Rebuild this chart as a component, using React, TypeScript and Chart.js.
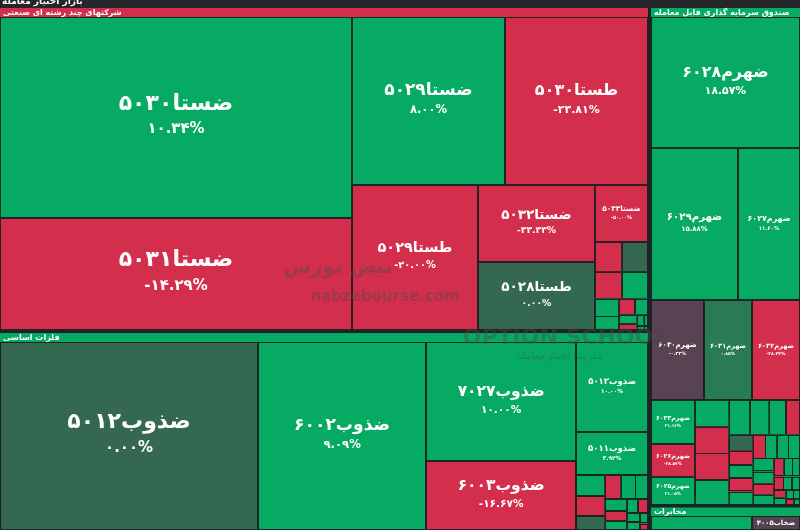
import React, { useEffect, useRef } from "react";
import { Chart, registerables } from "chart.js";
Chart.register(...registerables);

// ---------------- DATA ----------------
const rootTitle = "بازار اختیار معامله";
const groupNames = [
  "شرکتهای چند رشته ای صنعتی",
  "فلزات اساسی",
  "صندوق سرمایه گذاری قابل معامله",
  "مخابرات",
];

// Group 1 – شرکتهای چند رشته ای صنعتی
const g1Tickers = [
  "ضستا۵۰۳۰", "ضستا۵۰۳۱", "ضستا۵۰۲۹", "طستا۵۰۳۰", "طستا۵۰۲۹", "ضستا۵۰۳۲", "طستا۵۰۲۸", "ضستا۵۰۳۳",
  "طستا۵۰۳۱", "طستا۵۰۳۲", "ضستا۵۰۲۸", "طستا۵۰۳۳", "ضستا۵۰۲۷", "طستا۵۰۲۷", "ضستا۵۰۲۶",
  "طستا۵۰۲۶", "ضستا۵۰۲۵", "طستا۵۰۲۵", "ضستا۵۰۲۴", "طستا۵۰۲۴", "ضستا۵۰۳۴", "طستا۵۰۳۴",
];
const g1Values = [
  73292, 40839, 26627, 24886, 18926, 9332, 8242, 3129,
  829, 808, 746, 725, 435, 342, 269, 218, 166, 114, 83, 52, 31, 15,
];
const g1Changes = [
  10.34, -14.29, 8.0, -23.81, -20.0, -33.33, 0.0, -50.0,
  -12.5, 0.0, -9.1, 6.25, 5.0, 4.8, -7.7, 3.3, 5.5, -4.2, 6.7, 2.9, 4.0, 3.1,
];

// Group 2 – فلزات اساسی
const g2Tickers = [
  "ضذوب۵۰۱۲", "ضذوب۶۰۰۲", "ضذوب۷۰۲۷", "ضذوب۶۰۰۳", "ضذوب۵۰۱۳", "ضذوب۵۰۱۱",
  "طذوب۵۰۱۲", "طذوب۶۰۰۲", "ضذوب۷۰۲۸", "طذوب۷۰۲۷", "ضذوب۶۰۰۱", "طذوب۶۰۰۳", "ضذوب۵۰۱۰",
  "طذوب۵۰۱۳", "ضذوب۷۰۲۶", "طذوب۵۰۱۱", "ضذوب۶۰۰۴", "طذوب۷۰۲۸", "ضذوب۵۰۱۴", "طذوب۶۰۰۱", "ضذوب۷۰۲۹",
];
const g2Values = [
  51332, 33425, 18891, 10953, 6858, 3277,
  635, 593, 423, 402, 370, 317, 275, 233, 212, 169, 148, 127, 106, 85, 53,
];
const g2Changes = [
  0.0, 9.09, 10.0, -16.67, 10.0, 3.92,
  7.1, -11.1, 0.0, -8.3, 5.9, 4.5, 6.3, -5.6, 3.7, 8.3, -6.2, 4.2, 5.0, 3.4, -9.0,
];

// Group 3 – صندوق سرمایه گذاری قابل معامله
const g3Tickers = [
  "ضهرم۶۰۲۸", "ضهرم۶۰۲۹", "ضهرم۶۰۲۷", "ضهرم۶۰۳۰", "ضهرم۶۰۳۱", "ضهرم۶۰۳۲", "ضهرم۶۰۳۳", "ضهرم۶۰۲۶", "ضهرم۶۰۲۵",
  "طهرم۶۰۲۵", "طهرم۶۰۲۶", "طهرم۶۰۲۷", "طهرم۶۰۲۸", "طهرم۶۰۲۹", "طهرم۶۰۳۰", "طهرم۶۰۳۱", "طهرم۶۰۳۲", "طهرم۶۰۳۳",
  "ضهرم۶۰۲۰", "ضهرم۶۰۲۱", "ضهرم۶۰۲۲", "ضهرم۶۰۲۳", "ضهرم۶۰۲۴",
  "ضهرم۶۰۳۴", "ضهرم۶۰۳۵", "ضهرم۶۰۳۶", "ضهرم۶۰۳۷", "ضهرم۶۰۳۸", "ضهرم۶۰۳۹", "ضهرم۶۰۴۰",
  "طهرم۶۰۲۰", "طهرم۶۰۲۱", "طهرم۶۰۲۲", "طهرم۶۰۲۳", "طهرم۶۰۲۴",
  "طهرم۶۰۳۴", "طهرم۶۰۳۵", "طهرم۶۰۳۶", "طهرم۶۰۳۷", "طهرم۶۰۳۸", "طهرم۶۰۳۹", "طهرم۶۰۴۰",
];
const g3Values = [
  20140, 13644, 9724, 5469, 4953, 4952, 1997, 1486, 1254,
  929, 929, 929, 854, 759, 310, 285, 285, 285, 332,
  668, 619, 500, 393, 357, 333, 310, 286, 262, 238, 215, 191, 167, 143, 131, 119, 107, 95, 84, 71, 60, 47, 36,
];
const g3Changes = [
  18.57, 15.88, 11.6, -0.33, 0.85, -28.44, 21.16, -28.57, 21.05,
  14.3, -18.2, -20.0, 12.5, 9.8, 7.4, 6.9, 8.2, 5.6, -10.5,
  11.1, 6.7, -15.4, 0.0, -12.0, 9.1, -8.7, 10.2, 6.0, -11.3, 5.3, -7.1, 4.4, 8.8, -6.5, 3.9, 4.6, -5.2, 7.7, 3.5, 4.1, -9.9, 6.0,
];

// Group 4 – مخابرات
const g4Tickers = ["ضخاب۴۰۰۶", "ضخاب۴۰۰۵"];
const g4Values = [2449, 1164];
const g4Changes = [8.0, -0.2];

// ---------------- HELPERS ----------------
type Leaf = { name: string; value: number; change: number; rect?: number[] };
type Group = { name: string; value: number; change: number; items: Leaf[]; rect?: number[] };

const PHI = (1 + Math.sqrt(5)) / 2;

function squarify(items: { value: number; rect?: number[] }[], x0: number, y0: number, x1: number, y1: number) {
  let value = items.reduce((a, b) => a + b.value, 0);
  const n = items.length;
  let i0 = 0;
  let i1 = 0;
  while (i0 < n) {
    const dx = x1 - x0;
    const dy = y1 - y0;
    let sumValue = items[i1++].value;
    let minValue = sumValue;
    let maxValue = sumValue;
    const alpha = Math.max(dy / dx, dx / dy) / (value * PHI);
    let beta = sumValue * sumValue * alpha;
    let minRatio = Math.max(maxValue / beta, beta / minValue);
    for (; i1 < n; ++i1) {
      const nv = items[i1].value;
      sumValue += nv;
      if (nv < minValue) minValue = nv;
      if (nv > maxValue) maxValue = nv;
      beta = sumValue * sumValue * alpha;
      const newRatio = Math.max(maxValue / beta, beta / minValue);
      if (newRatio > minRatio) {
        sumValue -= nv;
        break;
      }
      minRatio = newRatio;
    }
    const row = items.slice(i0, i1);
    const last = i1 >= n;
    if (dx < dy) {
      const yb = last ? y1 : y0 + (dy * sumValue) / value;
      let x = x0;
      row.forEach((it, k) => {
        const w = (dx * it.value) / sumValue;
        const xe = k === row.length - 1 ? x1 : x + w;
        it.rect = [x, y0, xe, yb];
        x = xe;
      });
      y0 = yb;
    } else {
      const xb = last ? x1 : x0 + (dx * sumValue) / value;
      let y = y0;
      row.forEach((it, k) => {
        const h = (dy * it.value) / sumValue;
        const ye = k === row.length - 1 ? y1 : y + h;
        it.rect = [x0, y, xb, ye];
        y = ye;
      });
      x0 = xb;
    }
    value -= sumValue;
    i0 = i1;
  }
}

const GREEN = [6, 170, 98];
const RED = [212, 46, 77];
const ZERO_POS = [53, 104, 80];
const ZERO_NEG = [74, 68, 82];

function colorFor(ch: number) {
  const mix = (a: number[], b: number[], t: number) => a.map((v, i) => Math.round(v + (b[i] - v) * t));
  const c = ch >= 0 ? mix(ZERO_POS, GREEN, Math.min(ch / 3, 1)) : mix(ZERO_NEG, RED, Math.min(-ch / 3, 1));
  return `rgb(${c.join(",")})`;
}

const FA = "۰۱۲۳۴۵۶۷۸۹";
const toFa = (s: string) => s.replace(/[0-9]/g, (d) => FA[+d]);
const pctLabel = (ch: number) => (ch < 0 ? "-" : "") + toFa(Math.abs(ch).toFixed(2)) + "%";

function buildGroup(name: string, tickers: string[], values: number[], changes: number[]): Group {
  const items: Leaf[] = tickers.map((t, i) => ({ name: t, value: values[i], change: changes[i] }));
  items.sort((a, b) => b.value - a.value);
  const value = items.reduce((a, b) => a + b.value, 0);
  const change = items.reduce((a, b) => a + b.value * b.change, 0) / value;
  return { name, value, change, items };
}

const FONT = '"DejaVu Sans", "Noto Sans", sans-serif';
const ROOT_HEADER = 8;
const GROUP_HEADER = 9;
const GAP = 1.5;

const treemapPlugin = {
  id: "treemapPlugin",
  beforeDatasetsDraw(chart: any) {
    const ctx: CanvasRenderingContext2D = chart.ctx;
    const xs = chart.scales.x;
    const ys = chart.scales.y;
    const px = (v: number) => xs.getPixelForValue(v);
    const py = (v: number) => ys.getPixelForValue(v);
    const X0 = xs.min, X1 = xs.max, Y0 = ys.min, Y1 = ys.max;

    const groups: Group[] = [
      buildGroup(groupNames[0], g1Tickers, g1Values, g1Changes),
      buildGroup(groupNames[1], g2Tickers, g2Values, g2Changes),
      buildGroup(groupNames[2], g3Tickers, g3Values, g3Changes),
      buildGroup(groupNames[3], g4Tickers, g4Values, g4Changes),
    ].sort((a, b) => b.value - a.value);

    ctx.save();
    // background
    ctx.fillStyle = "#1e2226";
    ctx.fillRect(px(X0), py(Y0), px(X1) - px(X0), py(Y1) - py(Y0));

    // root header (title partly cut off at the top, as in the source)
    ctx.fillStyle = "#24262c";
    ctx.fillRect(px(X0), py(Y0), px(X1) - px(X0), py(Y0 + ROOT_HEADER) - py(Y0));
    ctx.fillStyle = "#ffffff";
    ctx.font = `bold 9px ${FONT}`;
    ctx.direction = "rtl";
    ctx.textAlign = "left";
    ctx.textBaseline = "alphabetic";
    ctx.fillText(rootTitle, px(X0 + 2), py(Y0 + 4));

    squarify(groups, X0, Y0 + ROOT_HEADER, X1, Y1);

    groups.forEach((g) => {
      let [gx0, gy0, gx1, gy1] = g.rect!;
      if (gx0 > X0 + 0.5) gx0 += GAP;
      if (gx1 < X1 - 0.5) gx1 -= GAP;
      if (gy0 > Y0 + ROOT_HEADER + 0.5) gy0 += GAP;
      if (gy1 < Y1 - 0.5) gy1 -= GAP;

      // group header
      ctx.fillStyle = g.change >= 0 ? `rgb(${GREEN.join(",")})` : `rgb(${RED.join(",")})`;
      ctx.fillRect(px(gx0), py(gy0), px(gx1) - px(gx0), py(gy0 + GROUP_HEADER) - py(gy0));
      ctx.fillStyle = "#ffffff";
      ctx.font = `bold 8px ${FONT}`;
      ctx.direction = "rtl";
      ctx.textAlign = "left";
      ctx.textBaseline = "middle";
      ctx.fillText(g.name, px(gx0 + 3), py(gy0 + GROUP_HEADER / 2));

      squarify(g.items, gx0, gy0 + GROUP_HEADER, gx1, gy1);

      g.items.forEach((it) => {
        const [a, b, c, d] = it.rect!;
        const X = px(a), Y = py(b), W = px(c) - X, H = py(d) - Y;
        ctx.fillStyle = colorFor(it.change);
        ctx.fillRect(X, Y, W, H);
        ctx.strokeStyle = "rgba(22,30,30,0.9)";
        ctx.lineWidth = 1;
        ctx.strokeRect(Math.round(X) + 0.5, Math.round(Y) + 0.5, Math.max(0, Math.round(W) - 1), Math.max(0, Math.round(H) - 1));
      });

      // labels
      g.items.forEach((it) => {
        const [a, b, c, d] = it.rect!;
        const X = px(a), Y = py(b), W = px(c) - X, H = py(d) - Y;
        const cx = X + W / 2, cy = Y + H / 2;
        ctx.fillStyle = "#ffffff";
        ctx.textAlign = "center";
        ctx.textBaseline = "middle";
        if (W >= 40 && H >= 24) {
          let fs = Math.min(22, H / 3.3);
          ctx.font = `bold ${fs}px ${FONT}`;
          ctx.direction = "rtl";
          const tw = ctx.measureText(it.name).width;
          const maxW = 0.5 * W + 12;
          if (tw > maxW) fs = (fs * maxW) / tw;
          if (fs < 5) return;
          ctx.font = `bold ${fs}px ${FONT}`;
          ctx.fillText(it.name, cx, cy - 0.62 * fs);
          ctx.direction = "ltr";
          ctx.font = `bold ${fs * 0.68}px ${FONT}`;
          ctx.fillText(pctLabel(it.change), cx, cy + 0.55 * fs);
        } else if (W >= 40 && W <= 80 && H >= 10) {
          let fs = H * 0.6;
          ctx.direction = "rtl";
          ctx.font = `bold ${fs}px ${FONT}`;
          const tw = ctx.measureText(it.name).width;
          if (tw > W * 0.8) fs = (fs * W * 0.8) / tw;
          ctx.font = `bold ${fs}px ${FONT}`;
          ctx.fillText(it.name, cx, cy);
        }
      });
    });

    // watermark
    ctx.globalAlpha = 0.4;
    ctx.fillStyle = "#4a4a4a";
    ctx.textAlign = "center";
    ctx.textBaseline = "middle";
    ctx.direction = "ltr";
    ctx.font = `bold 15px ${FONT}`;
    ctx.fillText("nabzebourse.com", 385, 297);
    ctx.font = `bold 22px ${FONT}`;
    ctx.fillText("OPTION SCHOOL", 565, 338);
    ctx.direction = "rtl";
    ctx.font = `bold 20px ${FONT}`;
    ctx.fillText("نبض بورس", 338, 268);
    ctx.font = `10px ${FONT}`;
    ctx.fillText("مدرسه اختیار معامله", 560, 356);
    ctx.restore();
  },
};

export default function App() {
  const ref = useRef<HTMLCanvasElement | null>(null);
  useEffect(() => {
    if (!ref.current) return;
    const chart = new Chart(ref.current, {
      type: "scatter",
      data: { datasets: [{ data: [] }] },
      options: {
        animation: false,
        responsive: false,
        maintainAspectRatio: false,
        devicePixelRatio: 1,
        layout: { padding: 0 },
        scales: {
          x: { type: "linear", min: 0, max: 800, display: false },
          y: { type: "linear", min: 0, max: 530, reverse: true, display: false },
        },
        plugins: { legend: { display: false }, tooltip: { enabled: false } },
      },
      plugins: [treemapPlugin],
    } as any);
    return () => chart.destroy();
  }, []);
  return (
    <div style={{ position: "fixed", left: 0, top: 0, width: 800, height: 530 }}>
      <canvas ref={ref} width={800} height={530} />
    </div>
  );
}
